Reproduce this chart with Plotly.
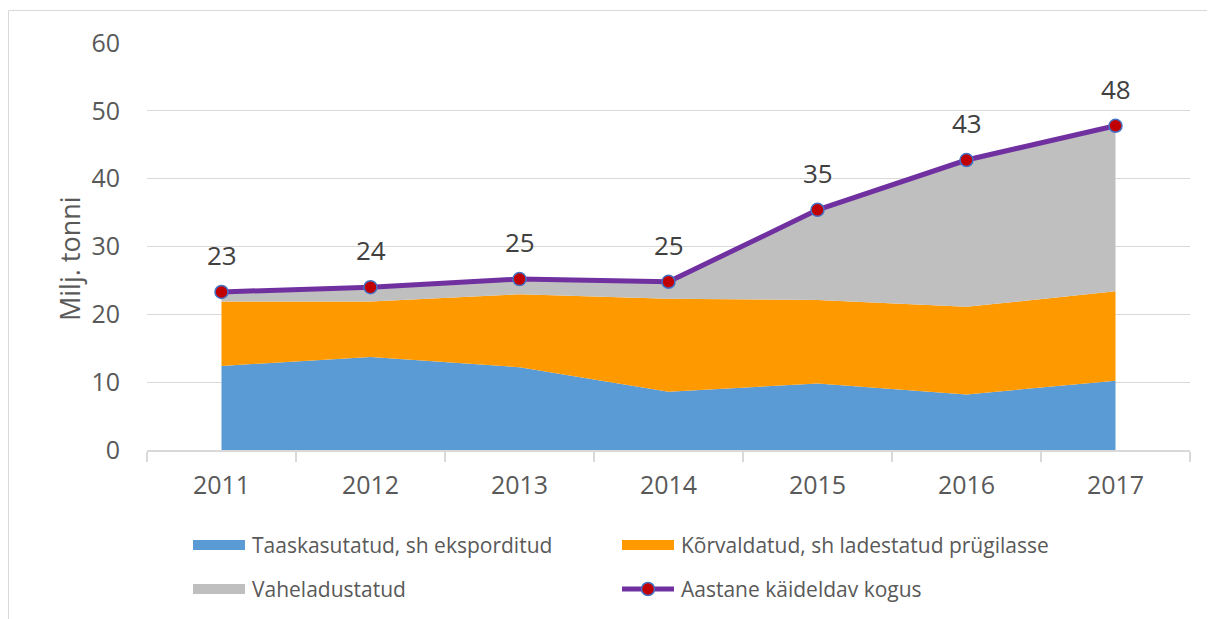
import plotly.graph_objects as go

years = ["2011", "2012", "2013", "2014", "2015", "2016", "2017"]
recovered = [12.4, 13.7, 12.2, 8.6, 9.8, 8.2, 10.2]          # Taaskasutatud, sh eksporditud
disposed = [9.5, 8.2, 10.75, 13.7, 12.3, 12.9, 13.2]         # Kõrvaldatud, sh ladestatud prügilasse
stored = [1.4, 2.1, 2.25, 2.5, 13.3, 21.65, 24.4]            # Vaheladustatud
total = [23.3, 24.0, 25.2, 24.8, 35.4, 42.75, 47.8]          # Aastane käideldav kogus

names = ["Taaskasutatud, sh eksporditud", "Kõrvaldatud, sh ladestatud prügilasse",
         "Vaheladustatud", "Aastane käideldav kogus"]
colors = ["#5B9BD5", "#FF9900", "#BFBFBF", "#7030A0"]
marker_color = "#C00000"
y_ticks = [0, 10, 20, 30, 40, 50, 60]

W, H = 1215, 619
OFF = 8  # page body margin
L, R, T, B = 147, 1190, 43, 450  # plot area in page pixels
FONT = "Open Sans"

def px(x):
    return (x - L) / (R - L)

def py(y):
    return (B - y) / (B - T)

fig = go.Figure()
for vals, name, col in zip([recovered, disposed, stored], names[:3], colors[:3]):
    fig.add_trace(go.Scatter(x=years, y=vals, name=name, stackgroup="one", mode="none",
                             fillcolor=col, showlegend=False, hoverinfo="x+y+name"))

fig.add_trace(go.Scatter(x=years, y=total, name=names[3], mode="lines+markers",
                         line=dict(color=colors[3], width=5),
                         marker=dict(color=marker_color, size=13,
                                     line=dict(color="#4472C4", width=1.5)),
                         showlegend=False))

annotations = []
for i, yv in enumerate(total):
    annotations.append(dict(x=i, y=yv, xref="x", yref="y", text=str(round(yv)),
                            showarrow=False, yshift=37, xanchor="center", yanchor="middle",
                            font=dict(family=FONT, size=26, color="#404040")))

# y-axis title
annotations.append(dict(x=px(70), y=py(259), xref="paper", yref="paper", text="Milj. tonni",
                        textangle=-90, showarrow=False, xanchor="center", yanchor="middle",
                        font=dict(family=FONT, size=27, color="#595959")))

shapes = []
# outer border (top and left)
shapes.append(dict(type="line", xref="paper", yref="paper", x0=px(8.5), x1=px(1215),
                   y0=py(10.5), y1=py(10.5), line=dict(color="#D9D9D9", width=1)))
shapes.append(dict(type="line", xref="paper", yref="paper", x0=px(8.5), x1=px(8.5),
                   y0=py(10.5), y1=py(619), line=dict(color="#D9D9D9", width=1)))

# custom legend
leg_items = [(193, 545), (622, 545), (193, 589), (622, 589)]
for i, ((lx, ly), name, col) in enumerate(zip(leg_items, names, colors)):
    if i < 3:
        shapes.append(dict(type="rect", xref="paper", yref="paper",
                           x0=px(lx), x1=px(lx + 52), y0=py(ly - 5), y1=py(ly + 5),
                           fillcolor=col, line=dict(width=0)))
    else:
        shapes.append(dict(type="line", xref="paper", yref="paper",
                           x0=px(lx), x1=px(lx + 52), y0=py(ly), y1=py(ly),
                           line=dict(color=col, width=5)))
        shapes.append(dict(type="circle", xref="paper", yref="paper",
                           x0=px(lx + 26 - 6.5), x1=px(lx + 26 + 6.5),
                           y0=py(ly - 6.5), y1=py(ly + 6.5),
                           fillcolor=marker_color, line=dict(color="#4472C4", width=1.5)))
    annotations.append(dict(x=px(lx + 57), y=py(ly), xref="paper", yref="paper", text=name,
                            showarrow=False, xanchor="left", yanchor="middle",
                            font=dict(family=FONT, size=21, color="#595959")))

fig.update_layout(
    width=W, height=H,
    margin=dict(l=L - OFF, r=W + OFF - R, t=T - OFF, b=H + OFF - B),
    paper_bgcolor="white", plot_bgcolor="white",
    showlegend=False,
    font=dict(family=FONT, color="#595959"),
    annotations=annotations,
    shapes=shapes,
    xaxis=dict(type="category", range=[-0.5, 6.5], tickson="boundaries",
               ticks="outside", ticklen=10, tickcolor="#D9D9D9", tickwidth=1.5,
               showline=True, linecolor="#D9D9D9", linewidth=1.5,
               showgrid=False, ticklabelstandoff=12,
               tickfont=dict(family=FONT, size=25, color="#595959")),
    yaxis=dict(range=[0, 60], tickvals=y_ticks, showgrid=True, gridcolor="#D9D9D9",
               gridwidth=1, zeroline=False, showline=False, ticks="",
               ticklabelstandoff=26,
               tickfont=dict(family=FONT, size=25, color="#595959")),
)

fig.write_html("out.html")
